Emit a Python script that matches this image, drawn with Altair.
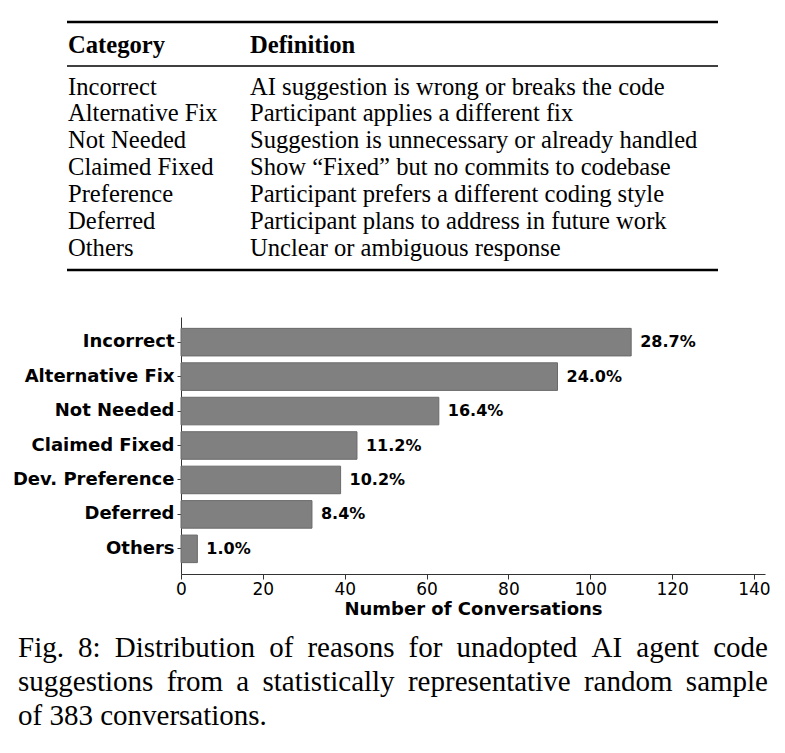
import altair as alt
import pandas as pd

# ---- data -------------------------------------------------------------
categories = ["Incorrect", "Alternative Fix", "Not Needed", "Claimed Fixed",
              "Dev. Preference", "Deferred", "Others"]
counts = [110, 92, 63, 43, 39, 32, 4]
pct_labels = ["28.7%", "24.0%", "16.4%", "11.2%", "10.2%", "8.4%", "1.0%"]
x_ticks = [0, 20, 40, 60, 80, 100, 120, 140]

table_header = ["Category", "Definition"]
table_categories = ["Incorrect", "Alternative Fix", "Not Needed", "Claimed Fixed",
                    "Preference", "Deferred", "Others"]
table_definitions = [
    "AI suggestion is wrong or breaks the code",
    "Participant applies a different fix",
    "Suggestion is unnecessary or already handled",
    "Show \u201cFixed\u201d but no commits to codebase",
    "Participant prefers a different coding style",
    "Participant plans to address in future work",
    "Unclear or ambiguous response",
]

caption_lines = [
    ["Fig.", "8:", "Distribution", "of", "reasons", "for", "unadopted", "AI", "agent", "code"],
    ["suggestions", "from", "a", "statistically", "representative", "random", "sample"],
    ["of", "383", "conversations."],
]
caption_justified = [True, True, False]

# ---- page layout (pixels) ----------------------------------------------
PAGE_W, PAGE_H = 785, 753
LEFT, TOP = 181, 317          # plot-area origin on the page
PLOT_W, PLOT_H = 584, 257

SERIF = "Liberation Serif"
SANS = "DejaVu Sans"

# table geometry
TBL_X0, TBL_X1 = 67, 718
COL1_X, COL2_X = 68, 250
HEADER_BASE = 53
ROW0_BASE, ROW_STEP = 94.5, 26.9
RULES = [(22, 2.4), (66, 1.3), (270, 2.4)]
TBL_FONT = 24.6

# caption geometry: lines are justified between CAP_X0 and CAP_X1
CAP_FONT = 29
CAP_X0, CAP_X1 = 18, 768
CAP_BASES = [657, 691, 725]

# advance widths of the serif face (per 1000 em) used to space caption words
_W = {" ": 250, ".": 250, ":": 278, ",": 250, "A": 722, "F": 556, "I": 333,
      "a": 444, "b": 500, "c": 444, "d": 500, "e": 444, "f": 333, "g": 500,
      "h": 500, "i": 278, "j": 278, "k": 500, "l": 278, "m": 778, "n": 500,
      "o": 500, "p": 500, "q": 500, "r": 333, "s": 389, "t": 278, "u": 500,
      "v": 500, "w": 722, "x": 500, "y": 500, "z": 444, "D": 722}
for _d in "0123456789":
    _W[_d] = 500


def text_width(s, size):
    return sum(_W.get(ch, 500) for ch in s) * size / 1000.0


def px(x):
    return x - LEFT


def py(y):
    return y - TOP


# ---- bar chart ----------------------------------------------------------
bars_df = pd.DataFrame({"category": categories, "count": counts, "pct": pct_labels})

y_enc = alt.Y(
    "category:N", sort=categories, title=None,
    scale=alt.Scale(paddingInner=0.2, paddingOuter=0.33),
    axis=alt.Axis(labelFont=SANS, labelFontWeight="bold", labelFontSize=18,
                  labelColor="black", tickSize=4, tickColor="#333", domainColor="#333",
                  domainWidth=1, labelPadding=3, grid=False),
)
x_enc = alt.X(
    "count:Q", scale=alt.Scale(domain=[0, 142.7], nice=False, zero=True),
    axis=alt.Axis(values=x_ticks, title="Number of Conversations", titleFont=SANS,
                  titleFontWeight="bold", titleFontSize=18, titleColor="black",
                  labelFont=SANS, labelFontSize=17, labelColor="black", tickSize=5,
                  tickColor="#333", domainColor="#333", grid=False, labelPadding=2,
                  labelFlush=False, titlePadding=3),
)

bars = alt.Chart(bars_df).mark_bar(
    color="#808080", stroke="#6a6a6a", strokeWidth=1
).encode(x=x_enc, y=y_enc)

values = alt.Chart(bars_df).mark_text(
    align="left", baseline="middle", dx=9, font=SANS, fontWeight="bold",
    fontSize=16, color="black"
).encode(x="count:Q", y=alt.Y("category:N", sort=categories), text="pct:N")

# ---- definitions table --------------------------------------------------
rules_df = pd.DataFrame({"y": [py(r[0]) for r in RULES], "w": [r[1] for r in RULES]})
table_rules = alt.Chart(rules_df).mark_rule(color="black").encode(
    x=alt.value(px(TBL_X0)), x2=alt.value(px(TBL_X1)),
    y=alt.Y("y:Q", scale=None),
    strokeWidth=alt.StrokeWidth("w:Q", scale=None),
)

header_df = pd.DataFrame({"text": table_header, "col": [0, 1]})
table_head = alt.Chart(header_df).mark_text(
    align="left", baseline="alphabetic", font=SERIF, fontWeight="bold",
    fontSize=TBL_FONT, color="black"
).transform_calculate(
    hx=f"datum.col == 0 ? {px(COL1_X)} : {px(COL2_X)}"
).encode(
    x=alt.X("hx:Q", scale=None), y=alt.value(py(HEADER_BASE)), text="text:N"
)

rows_df = pd.DataFrame({
    "cat": table_categories,
    "definition": table_definitions,
    "row": list(range(len(table_categories))),
})
row_y = alt.Y("ry:Q", scale=None)
table_rows_base = alt.Chart(rows_df).transform_calculate(
    ry=f"{ROW0_BASE - TOP} + datum.row * {ROW_STEP}"
)
table_cats = table_rows_base.mark_text(
    align="left", baseline="alphabetic", font=SERIF, fontSize=TBL_FONT, color="black"
).encode(x=alt.value(px(COL1_X)), y=row_y, text="cat:N")
table_defs = table_rows_base.mark_text(
    align="left", baseline="alphabetic", font=SERIF, fontSize=TBL_FONT, color="black"
).encode(x=alt.value(px(COL2_X)), y=row_y, text="definition:N")

# ---- caption (justified word by word) -----------------------------------
cap_rows = []
for line_no, words in enumerate(caption_lines):
    widths = [text_width(w, CAP_FONT) for w in words]
    if caption_justified[line_no] and len(words) > 1:
        gap = (CAP_X1 - CAP_X0 - sum(widths)) / (len(words) - 1)
    else:
        gap = text_width(" ", CAP_FONT)
    x = CAP_X0
    for w, wd in zip(words, widths):
        cap_rows.append({"word": w, "cx": px(x), "cy": py(CAP_BASES[line_no])})
        x += wd + gap
caption_df = pd.DataFrame(cap_rows)
caption = alt.Chart(caption_df).mark_text(
    align="left", baseline="alphabetic", font=SERIF, fontSize=CAP_FONT, color="black"
).encode(
    x=alt.X("cx:Q", scale=None), y=alt.Y("cy:Q", scale=None), text="word:N"
)

chart = alt.layer(
    bars, values, table_rules, table_head, table_cats, table_defs, caption
).properties(
    width=PLOT_W, height=PLOT_H,
    padding={"left": LEFT, "top": TOP, "right": PAGE_W - LEFT - PLOT_W,
             "bottom": PAGE_H - TOP - PLOT_H},
    autosize=alt.AutoSizeParams(type="none"),
    background="white",
).configure_view(stroke=None)

chart.save("out.html", embed_options={"renderer": "svg", "actions": False})
